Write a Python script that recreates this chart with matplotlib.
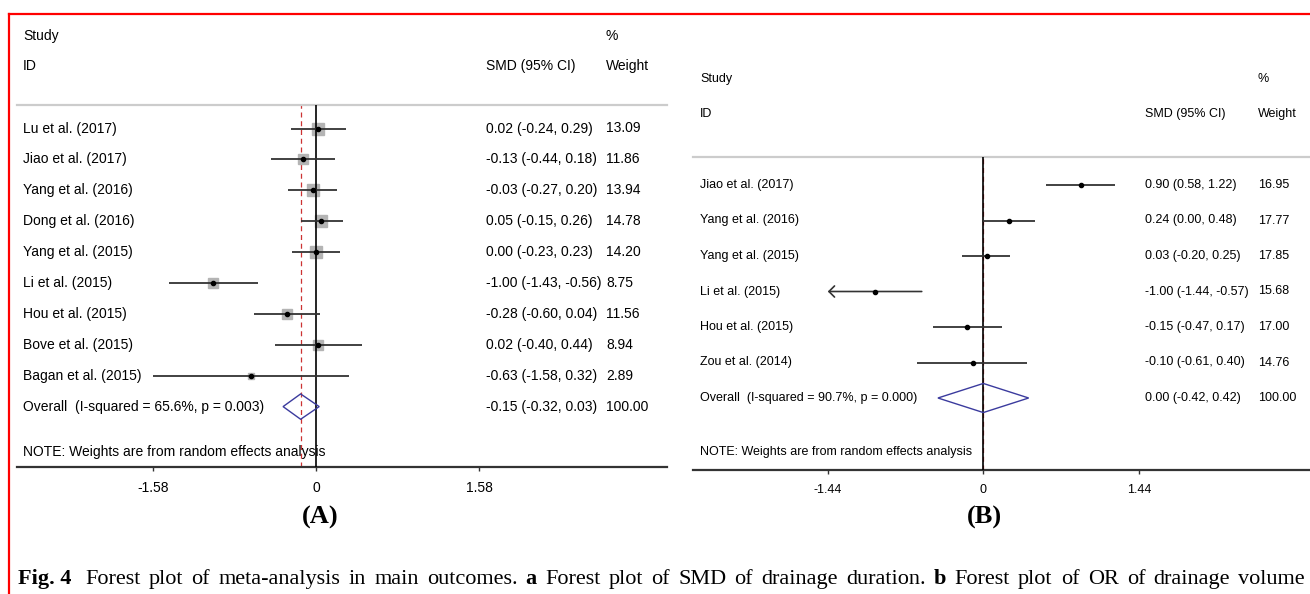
import matplotlib
matplotlib.use("Agg")
import numpy as np
import matplotlib.pyplot as plt
from matplotlib.lines import Line2D
from matplotlib.patches import Polygon

plt.rcParams['font.family'] = ['Liberation Sans', 'DejaVu Sans']

W, H = 1310, 594

# panel A: drainage duration
a_study = ["Lu et al. (2017)", "Jiao et al. (2017)", "Yang et al. (2016)", "Dong et al. (2016)",
           "Yang et al. (2015)", "Li et al. (2015)", "Hou et al. (2015)", "Bove et al. (2015)",
           "Bagan et al. (2015)"]
a_est = [0.02, -0.13, -0.03, 0.05, 0.00, -1.00, -0.28, 0.02, -0.63]
a_lo = [-0.24, -0.44, -0.27, -0.15, -0.23, -1.43, -0.60, -0.40, -1.58]
a_hi = [0.29, 0.18, 0.20, 0.26, 0.23, -0.56, 0.04, 0.44, 0.32]
a_wt = [13.09, 11.86, 13.94, 14.78, 14.20, 8.75, 11.56, 8.94, 2.89]
a_overall = [-0.15, -0.32, 0.03]
a_stats = ["65.6%", "0.003"]
a_ticks = [-1.58, 0, 1.58]
a_ticklabels = ["-1.58", "0", "1.58"]

# panel B: drainage volume
b_study = ["Jiao et al. (2017)", "Yang et al. (2016)", "Yang et al. (2015)", "Li et al. (2015)",
           "Hou et al. (2015)", "Zou et al. (2014)"]
b_est = [0.90, 0.24, 0.03, -1.00, -0.15, -0.10]
b_lo = [0.58, 0.00, -0.20, -1.44, -0.47, -0.61]
b_hi = [1.22, 0.48, 0.25, -0.57, 0.17, 0.40]
b_wt = [16.95, 17.77, 17.85, 15.68, 17.00, 14.76]
b_overall = [0.00, -0.42, 0.42]
b_stats = ["90.7%", "0.000"]
b_ticks = [-1.44, 0, 1.44]
b_ticklabels = ["-1.44", "0", "1.44"]

# caption words (text, bold, spaces after)
caption = [("Fig. 4", True, 2), ("Forest", False, 1), ("plot", False, 1),
           ("of", False, 1), ("meta-analysis", False, 1), ("in", False, 1), ("main", False, 1),
           ("outcomes.", False, 1), ("a", True, 1), ("Forest", False, 1), ("plot", False, 1),
           ("of", False, 1), ("SMD", False, 1), ("of", False, 1), ("drainage", False, 1),
           ("duration.", False, 1), ("b", True, 1), ("Forest", False, 1), ("plot", False, 1),
           ("of", False, 1), ("OR", False, 1), ("of", False, 1), ("drainage", False, 1),
           ("volume", False, 0)]

fig = plt.figure(figsize=(W / 100, H / 100), dpi=100)


def draw_panel(box, zero, ppu, row0, step, cols, heads, study, est, lo, hi, wt, overall, stats,
               ticks, ticklabels, fs, squares, arrow_min=None):
    x0, y0, x1, y1 = box
    ax = fig.add_axes([x0 / W, 1 - y1 / H, (x1 - x0) / W, (y1 - y0) / H])
    ax.patch.set_alpha(0)
    ax.set_xlim((x0 - zero) / ppu, (x1 - zero) / ppu)
    ax.set_ylim((y1 - row0) / step, (y0 - row0) / step)
    px = lambda p: (p - zero) / ppu
    py = lambda p: (p - row0) / step

    for s in ["left", "right"]:
        ax.spines[s].set_visible(False)
    ax.spines["top"].set_color("#cccccc")
    ax.spines["top"].set_linewidth(1.6)
    ax.spines["bottom"].set_color("#333333")
    ax.spines["bottom"].set_linewidth(1.6)
    ax.set_yticks([])
    ax.set_xticks(ticks)
    ax.set_xticklabels(ticklabels)
    ax.tick_params(axis="x", direction="out", length=3, width=1, color="#333333",
                   labelsize=fs, pad=7)

    ax.axvline(overall[0], color="#cc3333", lw=0.9, ls=(0, (4, 3)), zorder=2)
    ax.axvline(0, color="black", lw=1.2, zorder=3)

    n = len(study)
    rows = np.arange(n)
    if squares:
        for i in rows:
            ax.plot(est[i], i, marker="s", ms=2.2 * np.sqrt(wt[i]), color="#b4b4b4",
                    mec="#b4b4b4", zorder=2)
    for i in rows:
        if arrow_min is not None and lo[i] <= arrow_min:
            ax.annotate("", xy=(lo[i], i), xytext=(hi[i], i),
                        arrowprops=dict(arrowstyle="->,head_length=0.4,head_width=0.4",
                                        color="#333333", lw=1.2, shrinkA=0, shrinkB=0),
                        zorder=4)
        else:
            ax.plot([lo[i], hi[i]], [i, i], color="#333333", lw=1.3, zorder=4,
                    solid_capstyle="butt")
    ax.plot(est, rows, "o", color="black", ms=3, zorder=5)

    h = 0.41
    ax.add_patch(Polygon([(overall[1], n), (overall[0], n - h), (overall[2], n),
                          (overall[0], n + h)], closed=True, fill=False,
                         edgecolor="#3b3b9e", lw=1.0, zorder=4))

    sx, ex, wx = px(cols[0]), px(cols[1]), px(cols[2])
    h1, h2 = py(heads[0]), py(heads[1])
    ax.text(sx, h1, "Study", fontsize=fs, va="center")
    ax.text(wx, h1, "%", fontsize=fs, va="center")
    ax.text(sx, h2, "ID", fontsize=fs, va="center")
    ax.text(ex, h2, "SMD (95% CI)", fontsize=fs, va="center")
    ax.text(wx, h2, "Weight", fontsize=fs, va="center")
    for i in rows:
        ax.text(sx, i, study[i], fontsize=fs, va="center")
        ax.text(ex, i, f"{est[i]:.2f} ({lo[i]:.2f}, {hi[i]:.2f})", fontsize=fs, va="center")
        ax.text(wx, i, f"{wt[i]:.2f}", fontsize=fs, va="center")
    ax.text(sx, n, f"Overall  (I-squared = {stats[0]}, p = {stats[1]})", fontsize=fs, va="center")
    ax.text(ex, n, f"{overall[0]:.2f} ({overall[1]:.2f}, {overall[2]:.2f})", fontsize=fs,
            va="center")
    ax.text(wx, n, "100.00", fontsize=fs, va="center")
    ax.text(sx, py(heads[2]), "NOTE: Weights are from random effects analysis", fontsize=fs,
            va="center")
    return ax


draw_panel((17, 105, 667, 467), 316.1, 103.2, 128.5, 30.9, (23, 486, 606), (36, 66, 452),
           a_study, a_est, a_lo, a_hi, a_wt, a_overall, a_stats, a_ticks, a_ticklabels, 10, True)
draw_panel((693, 157, 1310, 470), 983.3, 108.0, 185, 35.5, (700, 1145, 1257.7), (79, 114, 452),
           b_study, b_est, b_lo, b_hi, b_wt, b_overall, b_stats, b_ticks, b_ticklabels, 9, False,
           arrow_min=-1.44)

serif = ["Liberation Serif", "DejaVu Serif"]
fig.text(320 / W, 1 - 517 / H, "(A)", family=serif, weight="bold", fontsize=19,
         ha="center", va="center")
fig.text(984.6 / W, 1 - 517 / H, "(B)", family=serif, weight="bold", fontsize=19,
         ha="center", va="center")

# red frame
fig.add_artist(Line2D([9 / W, 1], [1 - 14 / H, 1 - 14 / H], color="red", lw=1.6))
fig.add_artist(Line2D([9 / W, 9 / W], [1 - 14 / H, 0], color="red", lw=1.6))

# justified caption line
fig.canvas.draw()
r = fig.canvas.get_renderer()
cap_fs = 16
cap_y = 1 - 584 / H
words = []
for txt, bold, sp in caption:
    t = fig.text(0, cap_y, txt, family=serif, weight="bold" if bold else "normal",
                 fontsize=cap_fs, ha="left", va="baseline")
    words.append((t, t.get_window_extent(r).width, sp))
probe1 = fig.text(0, 0, "x x", family=serif, fontsize=cap_fs)
probe2 = fig.text(0, 0, "xx", family=serif, fontsize=cap_fs)
space_w = probe1.get_window_extent(r).width - probe2.get_window_extent(r).width
probe1.remove()
probe2.remove()
left, right = 18, 1305
natural = sum(w for _, w, _ in words) + space_w * sum(sp for _, _, sp in words)
n_gaps = sum(1 for _, _, sp in words if sp > 0)
extra = (right - left - natural) / n_gaps
x = left
for t, w, sp in words:
    t.set_x(x / W)
    x += w + sp * space_w + (extra if sp > 0 else 0)

fig.savefig("out.png", dpi=100)
